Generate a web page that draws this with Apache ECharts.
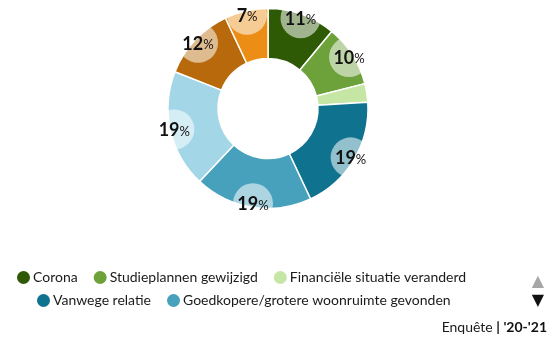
<!DOCTYPE html>
<html>
<head>
<meta charset="utf-8">
<script src="https://cdn.jsdelivr.net/npm/echarts@6/dist/echarts.min.js"></script>
<style>
  html, body { margin: 0; padding: 0; background: #fff; }
  #chart { width: 555px; height: 338px; }
</style>
</head>
<body>
<div id="chart"></div>
<script>
// Reasons for moving, survey year '20-'21 (share of respondents, %)
const categories = [
  'Corona',
  'Studieplannen gewijzigd',
  'Financiële situatie veranderd',
  'Vanwege relatie',
  'Goedkopere/grotere woonruimte gevonden',
  'Dichter bij studie/werk',
  'Zelfstandig gaan wonen',
  'Overig'
];
const values = [11, 10, 3, 19, 19, 19, 12, 7];
const colors = ['#2e5a06', '#6da23b', '#c6e6a6', '#0f7390', '#47a1bc', '#a3d7e8', '#b8690b', '#ec8e16'];
const legendRow1 = categories.slice(0, 3);
const legendRow2 = categories.slice(3, 5);
const showLabel = [true, true, false, true, true, true, true, true];

const FONT = 'Lato, "Noto Sans", sans-serif';
const CENTER = [268, 108.5];
const RADIUS = [50, 100];
const LABEL_R = 96;
const BUBBLE_R = 20;

const total = values.reduce((a, b) => a + b, 0);
const starts = [];
values.reduce((acc, v, i) => { starts[i] = acc; return acc + v; }, 0);

const chart = echarts.init(document.getElementById('chart'));

// Light bubble behind each value label, clipped to its own slice
function renderBubble(params, api) {
  const i = params.dataIndex;
  const v = api.value(0);
  if (!showLabel[i]) return null;
  const a0 = Math.PI / 2 - starts[i] / total * Math.PI * 2;
  const a1 = Math.PI / 2 - (starts[i] + v) / total * Math.PI * 2;
  const mid = (a0 + a1) / 2;
  const cx = CENTER[0] + LABEL_R * Math.cos(mid);
  const cy = CENTER[1] - LABEL_R * Math.sin(mid);
  return {
    type: 'group',
    children: [
      {
        type: 'circle',
        shape: { cx: cx, cy: cy, r: BUBBLE_R },
        style: { fill: 'rgba(255,255,255,0.55)' },
        clipPath: {
          type: 'sector',
          shape: {
            cx: CENTER[0], cy: CENTER[1], r0: RADIUS[0], r: RADIUS[1],
            startAngle: -a0, endAngle: -a1, clockwise: true
          }
        }
      },
      {
        type: 'text',
        x: cx, y: cy + 1,
        style: {
          text: '{n|' + v + '}{p|%}',
          align: 'center', verticalAlign: 'middle',
          rich: {
            n: { fontFamily: FONT, fontSize: 18, fontWeight: 'bold', fill: '#111' },
            p: { fontFamily: FONT, fontSize: 13, fill: '#111', padding: [2, 0, 0, 0] }
          }
        }
      }
    ]
  };
}

chart.setOption({
  animation: false,
  color: colors,
  legend: [
    {
      data: legendRow1, left: 10, top: 264,
      icon: 'circle', itemWidth: 15, itemHeight: 15, itemGap: 14,
      textStyle: { fontFamily: FONT, fontSize: 14, color: '#1a1a1a', padding: [0, 0, 0, -3] }
    },
    {
      data: legendRow2, left: 30, top: 287,
      icon: 'circle', itemWidth: 15, itemHeight: 15, itemGap: 14,
      textStyle: { fontFamily: FONT, fontSize: 14, color: '#1a1a1a', padding: [0, 0, 0, -3] }
    }
  ],
  series: [
    {
      type: 'pie',
      center: CENTER,
      radius: RADIUS,
      startAngle: 90,
      clockwise: true,
      label: { show: false },
      labelLine: { show: false },
      emphasis: { disabled: true },
      itemStyle: { borderColor: '#fff', borderWidth: 1.5 },
      data: categories.map((name, i) => ({ name: name, value: values[i] }))
    },
    {
      type: 'custom',
      coordinateSystem: 'none',
      silent: true,
      z: 5,
      data: values.map(v => [v]),
      renderItem: renderBubble
    }
  ],
  graphic: [
    {
      type: 'text', x: 538, y: 282,
      style: { text: '▲', fill: '#a6a6a6', fontSize: 16, fontFamily: 'DejaVu Sans', align: 'center', verticalAlign: 'middle' }
    },
    {
      type: 'text', x: 538, y: 301,
      style: { text: '▼', fill: '#111', fontSize: 16, fontFamily: 'DejaVu Sans', align: 'center', verticalAlign: 'middle' }
    },
    {
      type: 'text', x: 547, y: 327,
      style: {
        text: '{a|Enquête }{b|| \'20-\'21}',
        align: 'right', verticalAlign: 'middle',
        rich: {
          a: { fontFamily: FONT, fontSize: 14, fill: '#1a1a1a' },
          b: { fontFamily: FONT, fontSize: 14, fontWeight: 'bold', fill: '#111' }
        }
      }
    }
  ]
});
</script>
</body>
</html>
